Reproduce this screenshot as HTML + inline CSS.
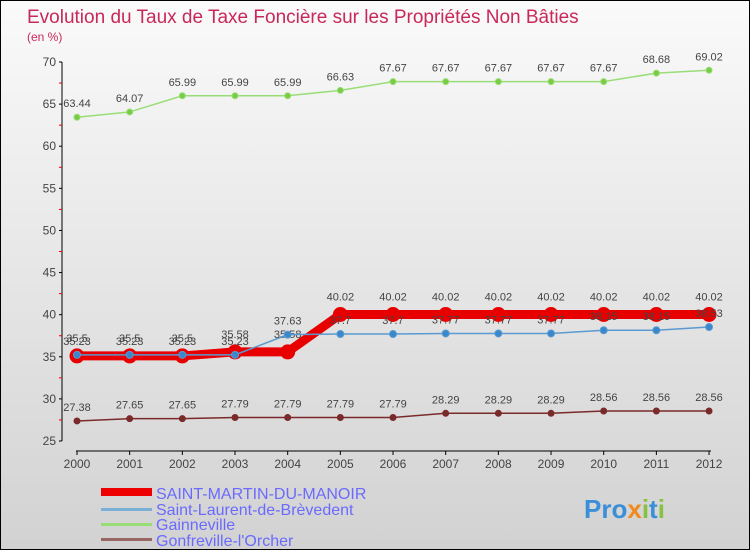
<!DOCTYPE html>
<html><head><meta charset="utf-8"><style>
body{margin:0;}
#c{width:750px;height:550px;position:relative;overflow:hidden;background:linear-gradient(#fafafa,#d2d2d2);box-sizing:border-box;border:1px solid #000;font-family:"Liberation Sans",sans-serif;}
svg{position:absolute;left:0;top:0}
</style></head><body>
<div id="c">
<svg id="s" width="750" height="550" xmlns="http://www.w3.org/2000/svg">
<text x="26" y="22" font-size="19" fill="#c8285a">Evolution du Taux de Taxe Foncière sur les Propriétés Non Bâties</text>
<text x="26" y="40" font-size="12" fill="#c8285a">(en %)</text>
<g id="axes"></g><g id="series"></g>
<g>
<rect x="100" y="487" width="51" height="8" fill="#e00"/>
<text x="155" y="498" font-size="16" fill="#6a6aff">SAINT-MARTIN-DU-MANOIR</text>
<rect x="100" y="507" width="51" height="3" fill="#7ab0d8"/>
<text x="155" y="514" font-size="16" fill="#6a6aff">Saint-Laurent-de-Brèvedent</text>
<rect x="100" y="522" width="51" height="3" fill="#99dd77"/>
<text x="155" y="529" font-size="16" fill="#6a6aff">Gainneville</text>
<rect x="100" y="537" width="51" height="3" fill="#996666"/>
<text x="155" y="545" font-size="16" fill="#6a6aff">Gonfreville-l'Orcher</text>
</g>
<g>
<text x="583" y="517" font-size="26" font-weight="bold" fill="#3a8fd8">Pro<tspan fill="#f08a1c">x</tspan><tspan fill="#88c040">i</tspan>t<tspan fill="#88c040">i</tspan></text>
</g>
</svg></div>
<script>
const years=[2000,2001,2002,2003,2004,2005,2006,2007,2008,2009,2010,2011,2012];
const yTicks=[25,30,35,40,45,50,55,60,65,70];
const stMartin=[35.1,35.1,35.1,35.58,35.58,40.02,40.02,40.02,40.02,40.02,40.02,40.02,40.02];
const stMartinLbl=["35.5","35.5","35.5","35.58","35.58","40.02","40.02","40.02","40.02","40.02","40.02","40.02","40.02"];
const stLaurent=[35.23,35.23,35.23,35.23,37.63,37.7,37.7,37.77,37.77,37.77,38.15,38.15,38.53];
const gainneville=[63.44,64.07,65.99,65.99,65.99,66.63,67.67,67.67,67.67,67.67,67.67,68.68,69.02];
const gonfreville=[27.38,27.65,27.65,27.79,27.79,27.79,27.79,28.29,28.29,28.29,28.56,28.56,28.56];
const NS="http://www.w3.org/2000/svg";
const X=i=>76+i*52.67;
const Y=v=>440-(v-25)*(379/45);
function mk(p,t,a){const e=document.createElementNS(NS,t);for(const k in a)e.setAttribute(k,a[k]);p.appendChild(e);return e;}
const ax=document.getElementById('axes'),sg=document.getElementById('series');
let e=mk(ax,'line',{x1:61,y1:61,x2:61,y2:440,stroke:'#000'});


e=mk(ax,'line',{x1:75,y1:450,x2:710,y2:450,stroke:'#000'});


yTicks.forEach(v=>{
 mk(ax,'line',{x1:58,y1:Y(v),x2:61,y2:Y(v),stroke:'#000'});
 if(v<70) mk(ax,'line',{x1:58,y1:Y(v+2.5),x2:61,y2:Y(v+2.5),stroke:'#e00'});
 const t=mk(ax,'text',{x:55,y:Y(v)+4,'font-size':12,fill:'#444','text-anchor':'end'});t.textContent=v;
 
 
});
years.forEach((y,i)=>{
 mk(ax,'line',{x1:X(i),y1:450,x2:X(i),y2:454,stroke:'#000'});
 const t=mk(ax,'text',{x:X(i),y:467,'font-size':12,fill:'#444','text-anchor':'middle'});t.textContent=y;
 
 
});
function series(data,lbls,color,w,r,dot,name,dy){
 const pl=mk(sg,'polyline',{points:data.map((v,i)=>X(i)+','+Y(v)).join(' '),fill:'none',stroke:color,'stroke-width':w});
 
 
 data.forEach((v,i)=>{
  const c=mk(sg,'circle',{cx:X(i),cy:Y(v),r:r,fill:dot,stroke:color,'stroke-width':1});
  
  
  const t=mk(sg,'text',{x:X(i),y:Y(v)+dy,'font-size':11,fill:'#444','text-anchor':'middle'});
  t.textContent=lbls?lbls[i]:v;
  
  
 });
}
series(gonfreville,null,'#7a2a2a',1.5,3,'#7a2a2a','gonfreville',-10);
series(gainneville,null,'#99dd77',1.5,3,'#77cc44','gainneville',-10);
series(stMartin,stMartinLbl,'#e80000',9,7,'#e80000','saint-martin',-14);
series(stLaurent,null,'#5a9ad0',1.5,3.5,'#3a88cc','saint-laurent',-10);
</script>
</body></html>
